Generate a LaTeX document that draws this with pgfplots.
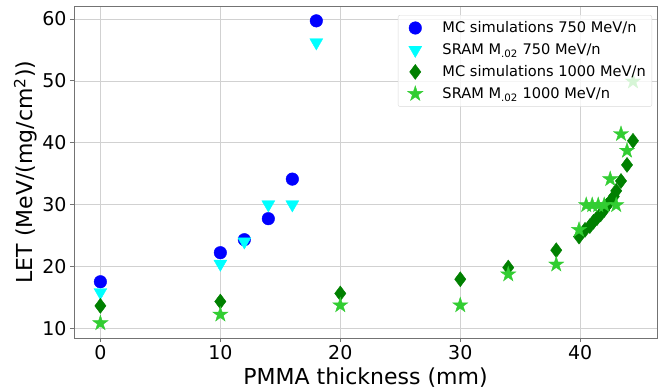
\documentclass[border=0pt]{standalone}
\usepackage{fontspec}
\setmainfont{DejaVu Sans}
\usepackage{pgfplots}
\pgfplotsset{compat=1.18}
\pgfdeclareplotmark{fstar}{%
  \pgfpathmoveto{\pgfpointpolar{90}{\pgfplotmarksize}}%
  \pgfpathlineto{\pgfpointpolar{126}{0.382\pgfplotmarksize}}%
  \pgfpathlineto{\pgfpointpolar{162}{\pgfplotmarksize}}%
  \pgfpathlineto{\pgfpointpolar{198}{0.382\pgfplotmarksize}}%
  \pgfpathlineto{\pgfpointpolar{234}{\pgfplotmarksize}}%
  \pgfpathlineto{\pgfpointpolar{270}{0.382\pgfplotmarksize}}%
  \pgfpathlineto{\pgfpointpolar{306}{\pgfplotmarksize}}%
  \pgfpathlineto{\pgfpointpolar{342}{0.382\pgfplotmarksize}}%
  \pgfpathlineto{\pgfpointpolar{18}{\pgfplotmarksize}}%
  \pgfpathlineto{\pgfpointpolar{54}{0.382\pgfplotmarksize}}%
  \pgfpathclose
  \pgfusepathqfillstroke
}
\definecolor{mcblue}{RGB}{0,0,255}
\definecolor{sramcyan}{RGB}{0,255,255}
\definecolor{mcgreen}{RGB}{0,128,0}
\definecolor{sramgreen}{RGB}{50,205,50}
\begin{document}
\begin{tikzpicture}
\begin{axis}[
  name=ax, scale only axis, width=583pt, height=332pt,
  xmin=-2.2, xmax=46.4, ymin=8.4, ymax=62.1,
  xtick={0,10,20,30,40}, ytick={10,20,30,40,50,60},
  grid=major, major grid style={color=black!18, line width=0.6pt},
  axis line style={black!55, line width=0.8pt},
  tick style={black!55, line width=0.8pt}, tick align=outside, major tick length=4pt,
  xtick pos=bottom, ytick pos=left,
  ticklabel style={font=\fontsize{19}{21}\selectfont},
  /pgf/number format/assume math mode=true,
  xlabel={PMMA thickness (mm)}, ylabel={LET (MeV/(mg/cm\textsuperscript{2}))},
  label style={font=\fontsize{22}{24}\selectfont},
  xlabel style={yshift=-1pt},
  ylabel style={yshift=-2pt},
  only marks,
  legend cell align=left,
  legend image code/.code={\path (-13pt,0pt) (25pt,0pt); \draw[#1] plot coordinates {(0pt,0pt)};},
  legend image post style={fill opacity=1, draw opacity=1},
  legend style={at={(rel axis cs:1,1)}, anchor=north east, xshift=-5pt, yshift=-9pt,
    font=\fontsize{14.6}{17}\selectfont, draw=black!15, rounded corners=2pt,
    fill=white, fill opacity=0.8, text opacity=1, row sep=5.5pt,
    inner xsep=4pt, inner ysep=4.5pt},
]
\addplot[mark=*, mark size=6.3pt, color=mcblue, mark options={fill=mcblue, draw=mcblue}]
  coordinates {(0,17.5) (10,22.2) (12,24.3) (14,27.7) (16,34.1) (18,59.7)};
\addlegendentry{MC simulations 750 MeV/n}
\addplot[mark=triangle*, mark size=7.5pt, color=sramcyan, mark options={rotate=180, fill=sramcyan, draw=sramcyan}]
  coordinates {(0,15.8) (10,20.4) (12,24.0) (14,30.0) (16,30.0) (18,56.2)};
\addlegendentry{SRAM M\textsubscript{.02} 750 MeV/n}
\addplot[mark=diamond*, mark size=7.5pt, color=mcgreen, mark options={fill=mcgreen, draw=mcgreen}]
  coordinates {(0,13.6) (10,14.3) (20,15.6) (30,17.9) (34,19.8) (38,22.6)
  (39.9,24.8) (40.4,25.9) (40.8,26.5) (41.1,27.2) (41.4,27.8) (41.7,28.4)
  (42.0,29.1) (42.2,29.8) (42.5,30.5) (42.8,31.3) (43.0,32.2) (43.4,33.8)
  (43.9,36.4) (44.4,40.3)};
\addlegendentry{MC simulations 1000 MeV/n}
\addplot[mark=fstar, mark size=8pt, color=sramgreen, mark options={fill=sramgreen, draw=sramgreen}]
  coordinates {(0,10.8) (10,12.2) (20,13.7) (30,13.7) (34,18.7) (38,20.3)
  (39.9,25.9) (40.5,29.9) (41.0,29.9) (41.5,29.9) (42.0,29.9) (42.5,34.1)
  (43.0,29.9) (43.4,41.4) (43.9,38.7) (44.4,49.9)};
\addlegendentry{SRAM M\textsubscript{.02} 1000 MeV/n}
\end{axis}
\pgfresetboundingbox
\path[use as bounding box] ([shift={(-74pt,-52pt)}]ax.south west) rectangle ([shift={(6pt,6pt)}]ax.north east);
\end{tikzpicture}
\end{document}
